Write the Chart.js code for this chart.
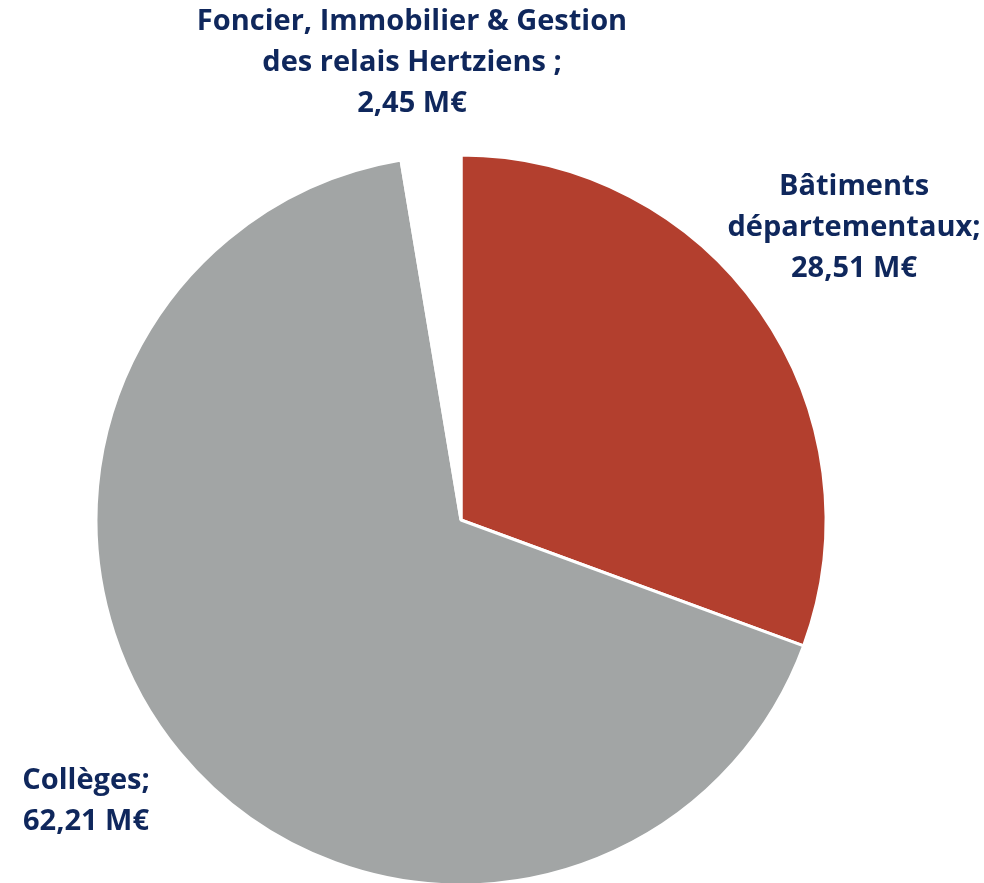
<!DOCTYPE html>
<html>
<head>
<meta charset="utf-8">
<script src="https://cdn.jsdelivr.net/npm/chart.js@4"></script>
<style>
  html, body { margin: 0; padding: 0; background: #fff; }
  #wrap { width: 984px; height: 883px; }
</style>
</head>
<body>
<div id="wrap"><canvas id="pie" width="984" height="883"></canvas></div>
<script>
// values in M€, clockwise from 12 o'clock
const categories = ['Bâtiments départementaux', 'Collèges', 'Foncier, Immobilier & Gestion des relais Hertziens'];
const amounts = [28.51, 62.21, 2.45];
const sliceColors = ['#b33f2e', '#a2a5a5', '#ffffff'];

const textColor = '#0f275c';
const fmt = v => v.toFixed(2).replace('.', ',') + ' M€';

// label lines for each slice, written the way the original splits them
const labelLines = [
  ['Bâtiments', 'départementaux;', fmt(amounts[0])],
  ['Collèges;', fmt(amounts[1])],
  ['Foncier, Immobilier & Gestion', 'des relais Hertziens ;', fmt(amounts[2])]
];
// where each label block sits: centre x, first-line y
const labelSpots = [
  { x: 854, y: 187 },
  { x: 86, y: 781 },
  { x: 412, y: 22 }
];

const sliceLabels = {
  id: 'sliceLabels',
  afterDraw(chart) {
    const ctx = chart.ctx;
    ctx.save();
    ctx.fillStyle = textColor;
    ctx.font = 'bold 29px "Open Sans"';
    ctx.textAlign = 'center';
    ctx.textBaseline = 'middle';
    labelLines.forEach((lines, i) => {
      const spot = labelSpots[i];
      lines.forEach((t, j) => ctx.fillText(t, spot.x, spot.y + j * 41));
    });
    ctx.restore();
  }
};

try {
  new Chart(document.getElementById('pie'), {
    type: 'pie',
    data: {
      labels: categories,
      datasets: [{
        data: amounts,
        backgroundColor: sliceColors,
        borderColor: '#ffffff',
        borderWidth: 3,
        clip: false
      }]
    },
    options: {
      responsive: false,
      animation: false,
      radius: 365,
      layout: { padding: { left: 0, right: 62, top: 157, bottom: 0 } },
      plugins: {
        legend: { display: false },
        tooltip: { enabled: false }
      }
    },
    plugins: [sliceLabels]
  });
} catch (e) {
  console.error('Failed to render pie', e);
}
</script>
</body>
</html>
